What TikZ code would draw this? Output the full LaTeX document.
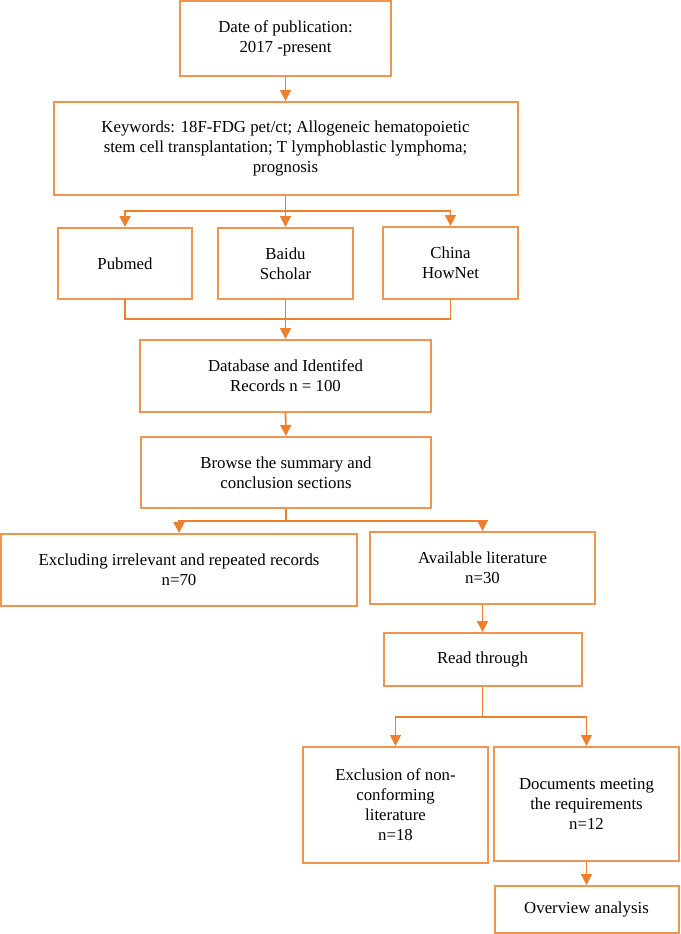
\documentclass[tikz,border=0pt]{standalone}
\usepackage{fontspec}
\setmainfont{Liberation Serif}
\usetikzlibrary{arrows.meta}
\definecolor{org}{RGB}{238,128,45}
\definecolor{orgbox}{RGB}{240,148,80}
\tikzset{
  box/.style={draw=orgbox, line width=2pt, rectangle, inner sep=2pt, align=center,
     font=\fontsize{16.8pt}{20pt}\selectfont},
  conn/.style={draw=org, line width=1.8pt},
  arr/.style={conn, -{Triangle[width=11pt,length=11pt]}},
}
\begin{document}
\begin{tikzpicture}[x=1pt,y=-1pt]
\useasboundingbox (0,0) rectangle (680,934);
% nodes
\node[box, minimum width=211pt, minimum height=75pt] (date) at (285.5,38.5) {Date of publication:\\2017 -present};
\node[box, minimum width=464pt, minimum height=93pt] (kw) at (285.5,148.5) {Keywords: 18F-FDG pet/ct; Allogeneic hematopoietic\\stem cell transplantation; T lymphoblastic lymphoma;\\prognosis};
\node[box, minimum width=134.5pt, minimum height=71pt] (pub) at (125,263.5) {Pubmed};
\node[box, minimum width=135pt, minimum height=71pt] (baidu) at (285.5,263.5) {Baidu\\Scholar};
\node[box, minimum width=135pt, minimum height=72pt] (china) at (450.5,263) {China\\HowNet};
\node[box, minimum width=291pt, minimum height=72pt] (db) at (285.5,376) {Database and Identifed\\Records n = 100};
\node[box, minimum width=290.5pt, minimum height=71pt] (browse) at (286,472.5) {Browse the summary and\\conclusion sections};
\node[box, minimum width=356pt, minimum height=72pt] (excl) at (179,570) {Excluding irrelevant and repeated records\\n=70};
\node[box, minimum width=225pt, minimum height=72pt] (avail) at (482.5,568) {Available literature\\n=30};
\node[box, minimum width=198pt, minimum height=53pt] (read) at (482.5,659.5) {Read through};
\node[box, minimum width=185pt, minimum height=116pt] (exnc) at (395.5,805) {Exclusion of non-\\conforming\\literature\\n=18};
\node[box, minimum width=185pt, minimum height=114pt] (docs) at (586.5,804) {Documents meeting\\the requirements\\n=12};
\node[box, minimum width=184pt, minimum height=47pt] (over) at (586.5,909.5) {Overview analysis};
% connectors
\draw[arr] (date.south) -- (kw.north);
\coordinate (s1) at (285.5,211);
\draw[conn] (kw.south) -- (s1);
\draw[arr] (s1) -| (pub.north);
\draw[arr] (s1) -| (china.north);
\draw[arr] (s1) -- (baidu.north);
\coordinate (m1) at (285.5,319);
\draw[conn] (pub.south) |- (m1);
\draw[conn] (china.south) |- (m1);
\draw[arr] (baidu.south) -- (db.north);
\draw[arr] (db.south) -- (browse.north);
\coordinate (s2) at (286,521);
\draw[conn] (browse.south) -- (s2);
\draw[arr] (s2) -| (excl.north);
\draw[arr] (s2) -| (avail.north);
\draw[arr] (avail.south) -- (read.north);
\coordinate (s3) at (482.5,717);
\draw[conn] (read.south) -- (s3);
\draw[arr] (s3) -| (exnc.north);
\draw[arr] (s3) -| (docs.north);
\draw[arr] (docs.south) -- (over.north);
\end{tikzpicture}
\end{document}
